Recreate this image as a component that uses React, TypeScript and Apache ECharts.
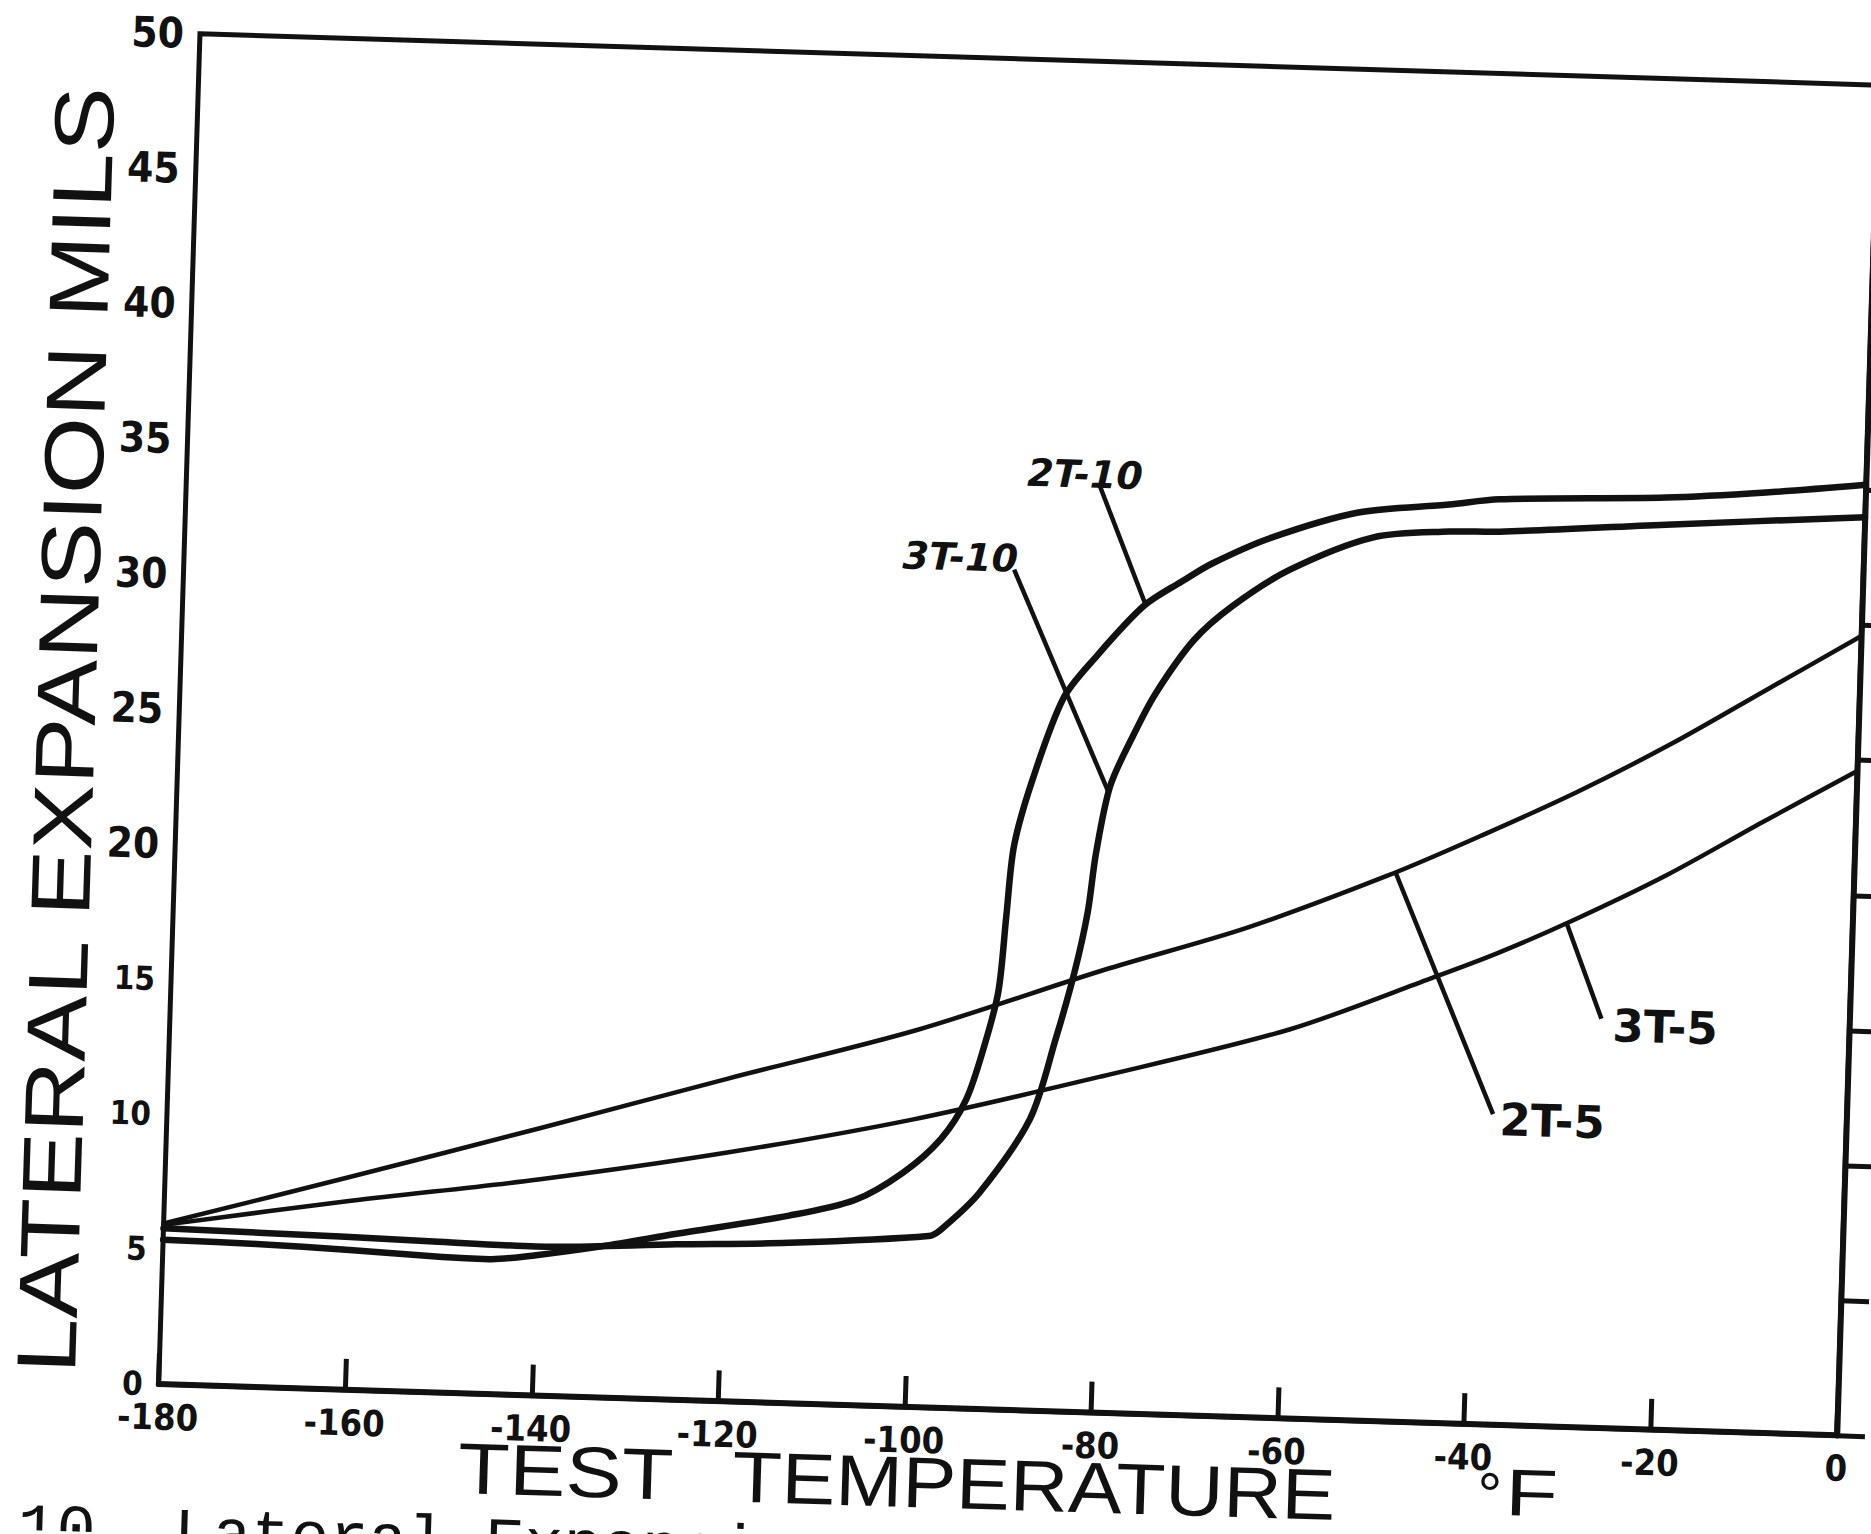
import React, { useEffect, useRef } from "react";
import * as echarts from "echarts";

// Axis ticks (°F and mils)
const xMin = -180;
const xMax = 0;
const xStep = 20;
const yMin = 0;
const yMax = 50;
const yStep = 5;

// Curves: [temperature °F, lateral expansion mils]
const curve2T10: [number, number][] = [
  [-180, 5.35], [-170, 5.3], [-160, 5.18], [-150, 5.03], [-145, 5.0], [-140, 5.2],
  [-133, 5.6], [-125, 6.15], [-113, 6.95], [-106, 7.6], [-101, 8.65], [-97, 9.95],
  [-94.4, 11.45], [-92.6, 13.5], [-91.3, 15.5], [-90.7, 18.3], [-90.1, 20.9],
  [-88.3, 23.4], [-85.3, 26.4], [-82.1, 27.9], [-77, 29.9], [-73, 30.85], [-69.8, 31.55],
  [-63.7, 32.55], [-54.3, 33.6], [-44.6, 34.0], [-39.2, 34.25], [-21.4, 34.5],
  [-10.7, 34.8], [0, 35.2],
];
const curve3T10: [number, number][] = [
  [-180, 5.77], [-161, 5.67], [-151, 5.59], [-140, 5.52], [-125, 5.76], [-113, 5.94],
  [-98, 6.35], [-96.7, 6.6], [-92.7, 8.0], [-87.5, 10.8], [-85, 13.8], [-83.2, 16.3],
  [-82, 18.5], [-81.3, 20.7], [-80, 23.2], [-77.7, 25.1], [-75.4, 26.7], [-71.5, 28.7],
  [-67.5, 30.0], [-61.5, 31.4], [-52.6, 32.7], [-44.5, 33.0], [-39.1, 33.05],
  [-21.3, 33.5], [0, 34.0],
];
const curve2T5: [number, number][] = [
  [-180, 5.95], [-160, 7.9], [-140, 9.9], [-120, 11.95], [-100, 13.95], [-80, 16.4],
  [-65, 18.1], [-50, 20.2], [-40, 21.8], [-30, 23.5], [-20, 25.4], [-10, 27.5], [0, 29.6],
];
const curve3T5: [number, number][] = [
  [-180, 5.9], [-160, 7.0], [-140, 8.0], [-120, 9.2], [-100, 10.65], [-80, 12.45],
  [-60, 14.4], [-45, 16.45], [-38, 17.45], [-30, 18.75], [-20, 20.55], [-10, 22.6], [0, 24.6],
];

// Leader lines (data coordinates) and label anchors (left-middle, data coordinates)
const leader2T10: [number, number][] = [[-82.1, 34.3], [-76.8, 29.95]];
const leader3T10: [number, number][] = [[-91.0, 31.1], [-80.2, 23.0]];
const leader2T5: [number, number][] = [[-49.1, 20.3], [-37.9, 11.5]];
const leader3T5: [number, number][] = [[-30.7, 18.7], [-26.6, 15.15]];
const anchor2T10: [number, number] = [-89.9, 34.7];
const anchor3T10: [number, number] = [-103.0, 31.5];
const anchor2T5: [number, number] = [-37.2, 11.3];
const anchor3T5: [number, number] = [-25.4, 14.9];

const INK = "#111";
const NUM_FONT = '"DejaVu Sans", sans-serif';
const COND_FONT = '"DejaVu Sans Condensed", "DejaVu Sans", sans-serif';
const TITLE_FONT = '"Liberation Sans", Arial, sans-serif';

function leaderMark(seg: [number, number][]) {
  return {
    silent: true,
    symbol: ["none", "none"],
    label: { show: false },
    lineStyle: { color: INK, width: 4.5, type: "solid" },
    emphasis: { disabled: true },
    data: [[{ coord: seg[0] }, { coord: seg[1] }]],
  };
}

function lineSeries(name: string, data: [number, number][], width: number, leader: [number, number][]) {
  return {
    type: "line",
    name,
    data,
    symbol: "none",
    showSymbol: false,
    smooth: 0.3,
    lineStyle: { color: INK, width, cap: "round", join: "round" },
    silent: true,
    markLine: leaderMark(leader),
  };
}

function textEl(id: string, text: string, x: number, y: number, font: string, align: string, extra: any = {}) {
  return {
    type: "text",
    id,
    x,
    y,
    silent: true,
    ...extra,
    style: {
      text,
      x: 0,
      y: 0,
      font,
      fill: INK,
      align,
      verticalAlign: "middle",
      textAlign: align,
      textVerticalAlign: "middle",
    },
  };
}

export default function App() {
  const ref = useRef<HTMLDivElement>(null);

  useEffect(() => {
    if (!ref.current) return;
    const chart = echarts.init(ref.current, null, { renderer: "svg" });

    const option: any = {
      animation: false,
      backgroundColor: "#ffffff",
      grid: {
        left: 158.7,
        top: 33.2,
        width: 1679,
        height: 1351,
        show: true,
        borderColor: INK,
        borderWidth: 5,
        backgroundColor: "transparent",
      },
      xAxis: {
        type: "value",
        min: xMin,
        max: xMax,
        interval: xStep,
        axisLine: { show: true, lineStyle: { color: INK, width: 6 } },
        axisTick: { show: true, inside: true, length: 31, lineStyle: { color: INK, width: 5 } },
        axisLabel: {
          margin: 15,
          color: INK,
          fontFamily: COND_FONT,
          fontWeight: "bold",
          fontSize: 36,
        },
        splitLine: { show: false },
      },
      yAxis: {
        type: "value",
        min: yMin,
        max: yMax,
        interval: yStep,
        axisLine: { show: true, lineStyle: { color: INK, width: 6 } },
        axisTick: { show: true, inside: true, length: 28, lineStyle: { color: INK, width: 5 } },
        axisLabel: {
          margin: 16,
          formatter: (v: number) => (v >= 20 ? `{big|${v}}` : `{small|${v}}`),
          rich: {
            big: { fontSize: 42, fontWeight: "bold", fontFamily: COND_FONT, color: INK },
            small: { fontSize: 33, fontWeight: "bold", fontFamily: COND_FONT, color: INK },
          },
        },
        splitLine: { show: false },
      },
      series: [
        lineSeries("2T-10", curve2T10, 6.5, leader2T10),
        lineSeries("3T-10", curve3T10, 6.5, leader3T10),
        lineSeries("2T-5", curve2T5, 4.5, leader2T5),
        lineSeries("3T-5", curve3T5, 4.5, leader3T5),
      ],
      graphic: [
        textEl("ytitle", "LATERAL EXPANSION MILS", 45.5, 733, `84px ${TITLE_FONT}`, "center", {
          rotation: Math.PI / 2,
          scaleX: 1.18,
        }),
        textEl("xtitle1", "TEST", 460.5, 1459, `72px ${TITLE_FONT}`, "left", { scaleX: 1.17 }),
        textEl("xtitle2", "TEMPERATURE", 735, 1459, `72px ${TITLE_FONT}`, "left", { scaleX: 1.12 }),
        textEl("xdeg", "°", 1480, 1454, `62px ${TITLE_FONT}`, "left"),
        textEl("xunit", "F", 1508, 1451, `66px ${TITLE_FONT}`, "left", { scaleX: 1.3 }),
        textEl("caption", "10. Lateral Expansion", 22, 1535, `65px "Liberation Mono", monospace`, "left"),
      ],
    };
    chart.setOption(option);

    const px = (p: [number, number]) => chart.convertToPixel({ gridIndex: 0 }, p) as number[];
    const labels = [
      { id: "l2T10", text: "2T-10", at: anchor2T10, font: `italic bold 38px ${NUM_FONT}` },
      { id: "l3T10", text: "3T-10", at: anchor3T10, font: `italic bold 38px ${NUM_FONT}` },
      { id: "l2T5", text: "2T-5", at: anchor2T5, font: `bold 45px ${NUM_FONT}` },
      { id: "l3T5", text: "3T-5", at: anchor3T5, font: `bold 45px ${NUM_FONT}` },
    ];
    chart.setOption({
      graphic: labels.map((l) => {
        const p = px(l.at);
        return textEl(l.id, l.text, p[0], p[1], l.font, "left");
      }),
    });

    return () => chart.dispose();
  }, []);

  return (
    <div
      style={{
        position: "absolute",
        left: 0,
        top: 0,
        width: 1871,
        height: 1534,
        overflow: "hidden",
        background: "#ffffff",
      }}
    >
      <div
        ref={ref}
        style={{
          width: 1871,
          height: 1534,
          transform: "rotate(1.75deg)",
          transformOrigin: "158.7px 1384.2px",
        }}
      />
    </div>
  );
}
